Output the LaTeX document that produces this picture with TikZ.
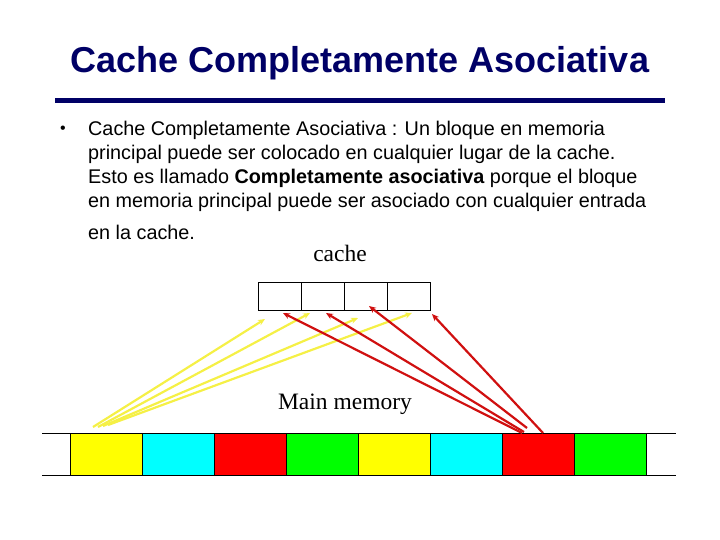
\documentclass[tikz,border=0pt]{standalone}
\usepackage{fontspec}
\setmainfont{Liberation Serif}
\setsansfont{Liberation Sans}
\usepackage{xcolor}
\usepackage{tikz}
\usetikzlibrary{arrows.meta, positioning, calc}
\definecolor{navy}{RGB}{0,0,102}
\definecolor{ylw}{RGB}{245,240,70}
\definecolor{drk}{RGB}{208,16,16}
\definecolor{aqua}{RGB}{0,255,255}
\definecolor{lime}{RGB}{0,255,0}
\definecolor{yel}{RGB}{255,255,0}
\definecolor{rd}{RGB}{255,0,0}
\tikzset{
  cellbox/.style={rectangle,draw=black,fill=white,minimum width=43pt,minimum height=28pt,inner sep=0pt,outer sep=0pt,line width=0.8pt},
  memblk/.style={rectangle,draw=black,minimum width=72pt,minimum height=42pt,inner sep=0pt,outer sep=0pt,line width=0.8pt},
  yarr/.style={-{Stealth[length=7pt,width=6pt]},ylw,line width=2.2pt},
  rarr/.style={-{Stealth[length=7pt,width=6pt]},drk,line width=2.2pt},
  lbl/.style={font=\fontsize{23.5}{28}\selectfont\rmfamily,inner sep=0pt}
}

\begin{document}
\begin{tikzpicture}[x=1pt,y=-1pt]
  \useasboundingbox (0,0) rectangle (720,540);
  % title and rule
  \node[font=\fontsize{36}{40}\selectfont\sffamily\bfseries,text=navy] (title) at (360,63) {Cache Completamente Asociativa};
  \draw[navy,line width=5pt] (55,101) -- (665,101);

  % bullet text
  \node[font=\fontsize{16}{18}\selectfont\sffamily] (dot) at (63,130) {•};
  \node[font=\fontsize{19.8}{24}\selectfont\sffamily,anchor=north west,align=left,inner sep=0pt] (desc) at (88,121)
    {Cache Completamente Asociativa : Un bloque en memoria\\
     principal puede ser colocado en cualquier lugar de la cache.\\
     Esto es llamado \textbf{Completamente asociativa} porque el bloque\\
     en memoria principal puede ser asociado con cualquier entrada\\[8pt]
     en la cache.};

  % cache
  \node[lbl] (cachelbl) at (340,253) {cache};
  \node[cellbox] (c1) at (279.5,296) {};
  \node[cellbox, right=0pt of c1] (c2) {};
  \node[cellbox, right=0pt of c2] (c3) {};
  \node[cellbox, right=0pt of c3] (c4) {};

  % main memory
  \node[lbl] (memlbl) at (345,404) {Main memory};
  \foreach \c [count=\i] in {yel,aqua,rd,lime,yel,aqua,rd,lime}
    \node[memblk,fill=\c] (m\i) at ({34+72*\i},454) {};
  \draw[line width=0.8pt] ([xshift=-28pt]m1.north west) -- ([xshift=30pt]m8.north east);
  \draw[line width=0.8pt] ([xshift=-28pt]m1.south west) -- ([xshift=30pt]m8.south east);

  % yellow block -> cache
  \draw[yarr] ([shift={(23,-6)}]m1.north west) -- ([shift={(7,9)}]c1.south west);
  \draw[yarr] ([shift={(28,-6)}]m1.north west) -- ([shift={(9,3)}]c2.south west);
  \draw[yarr] ([shift={(33,-7)}]m1.north west) -- ([shift={(14,8)}]c3.south west);
  \draw[yarr] ([shift={(38,-8)}]m1.north west) -- ([shift={(25,3)}]c4.south west);

  % red block -> cache
  \draw[rarr] ([shift={(20,0)}]m7.north west) -- ([shift={(25,3)}]c1.south west);
  \draw[rarr] ([shift={(22,-1)}]m7.north west) -- ([shift={(25,3)}]c2.south west);
  \draw[rarr] ([shift={(25,-5)}]m7.north west) -- ([shift={(25,-4)}]c3.south west);
  \draw[rarr] ([shift={(41,0)}]m7.north west) -- ([shift={(2,4)}]c4.south east);
\end{tikzpicture}
\end{document}
